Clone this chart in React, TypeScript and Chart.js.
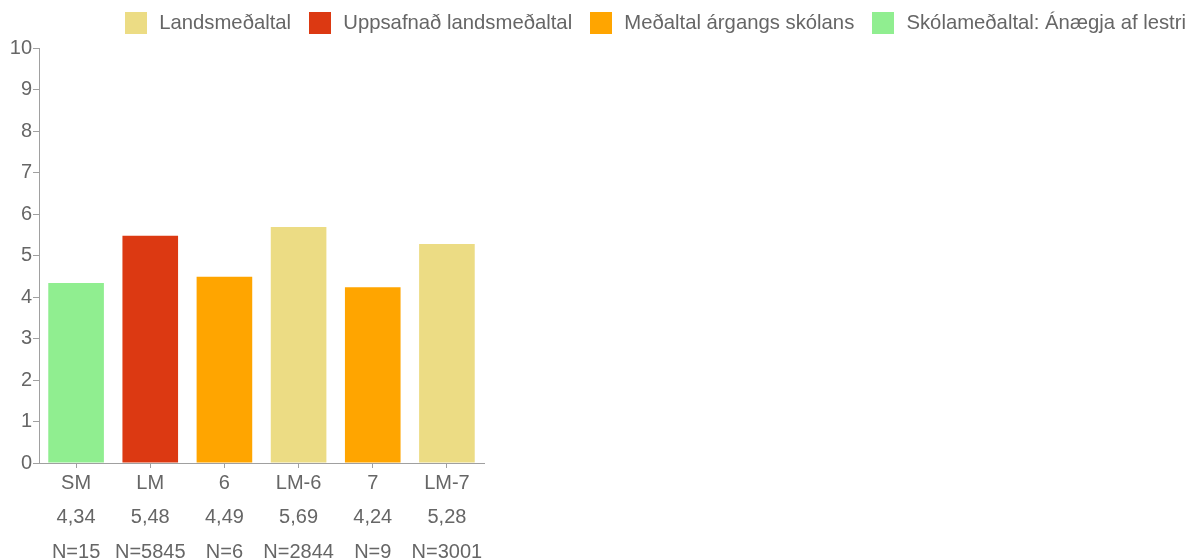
import React, { useEffect, useRef } from "react";
import { Chart, registerables } from "chart.js";

Chart.register(...registerables);

const categories = ["SM", "LM", "6", "LM-6", "7", "LM-7"];
const values = [4.34, 5.48, 4.49, 5.69, 4.24, 5.28];
const counts = [15, 5845, 6, 2844, 9, 3001];
const seriesOfBar = [3, 1, 2, 0, 2, 0];
const seriesNames = [
  "Landsmeðaltal",
  "Uppsafnað landsmeðaltal",
  "Meðaltal árgangs skólans",
  "Skólameðaltal: Ánægja af lestri",
];
const seriesColors = ["#ecdc84", "#dc3912", "#ffa500", "#90ee90"];
const yTicks = [0, 1, 2, 3, 4, 5, 6, 7, 8, 9, 10];

const FONT = "'Liberation Sans', Arial, Helvetica, sans-serif";
const TEXT = "#666666";
const AXIS = "#a0a0a0";
const CANVAS_W = 1202;
const CANVAS_H = 560;

function swatch(color: string) {
  const c = document.createElement("canvas");
  c.width = 22;
  c.height = 22;
  const g = c.getContext("2d");
  if (g) {
    g.fillStyle = color;
    g.fillRect(0, 0, 22, 22);
  }
  return c;
}

export default function App() {
  const ref = useRef<HTMLCanvasElement | null>(null);

  useEffect(() => {
    if (!ref.current) return;
    const labels = categories.map((c, i) => [
      c,
      values[i].toFixed(2).replace(".", ","),
      "N=" + counts[i],
    ]);
    const datasets = seriesNames.map((name, s) => ({
      label: name,
      data: values.map((v, i) => (seriesOfBar[i] === s ? v : null)),
      backgroundColor: seriesColors[s],
      borderWidth: 0,
      pointStyle: swatch(seriesColors[s]),
      xAxisID: "x",
      yAxisID: "y",
      grouped: false,
      categoryPercentage: 1,
      barPercentage: 0.75,
    }));
    const chart = new Chart(ref.current, {
      type: "bar",
      data: { labels, datasets },
      options: {
        animation: false,
        responsive: false,
        layout: { padding: { top: -3.2, left: 0, right: 0, bottom: 0 } },
        plugins: {
          tooltip: { enabled: false },
          legend: {
            position: "top",
            align: "end",
            labels: {
              usePointStyle: true,
              pointStyleWidth: 26,
              padding: 16,
              color: TEXT,
              font: { family: FONT, size: 20.3 },
            },
          },
        },
        scales: {
          x: {
            type: "category",
            position: "bottom",
            offset: true,
            grid: {
              display: true,
              drawOnChartArea: false,
              drawTicks: true,
              tickLength: 5,
              offset: false,
              color: AXIS,
            },
            border: { display: true, color: AXIS },
            ticks: {
              color: TEXT,
              font: { family: FONT, size: 20, lineHeight: 1.72 },
              padding: -2,
              maxRotation: 0,
              autoSkip: false,
            },
            afterFit: (s: any) => {
              s.height = 97;
            },
          },
          y: {
            type: "linear",
            position: "left",
            min: 0,
            max: 10,
            grid: {
              display: true,
              drawOnChartArea: false,
              drawTicks: true,
              tickLength: 6,
              color: AXIS,
            },
            border: { display: true, color: AXIS },
            ticks: {
              stepSize: 1,
              color: TEXT,
              font: { family: FONT, size: 20 },
              padding: 1,
              callback: (v: any) => (yTicks.includes(v) ? String(v) : ""),
            },
            afterFit: (s: any) => {
              s.width = 39;
            },
          },
          padTop: {
            type: "linear",
            axis: "x",
            position: "top",
            display: true,
            grid: { display: false },
            border: { display: false },
            ticks: { display: false },
            afterFit: (s: any) => {
              s.height = 5.2;
            },
          },
          padRight: {
            type: "linear",
            axis: "y",
            position: "right",
            display: true,
            grid: { display: false },
            border: { display: false },
            ticks: { display: false },
            afterFit: (s: any) => {
              s.width = CANVAS_W - 484;
            },
          },
        },
      },
    } as any);
    return () => chart.destroy();
  }, []);

  return (
    <div
      style={{
        position: "fixed",
        left: 0,
        top: 0,
        width: 1189,
        height: 560,
        overflow: "hidden",
        background: "#fff",
      }}
    >
      <canvas ref={ref} width={CANVAS_W} height={CANVAS_H} style={{ display: "block" }} />
    </div>
  );
}
